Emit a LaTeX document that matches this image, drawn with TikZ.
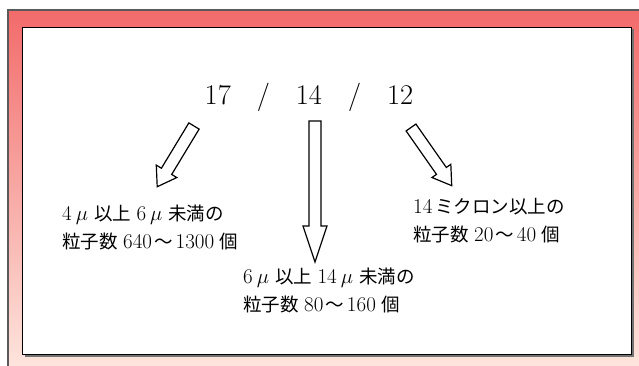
\documentclass[tikz,border=0pt]{standalone}
\usepackage{fontspec}
\newfontfamily\jp{Noto Sans CJK JP}
\newcommand\J[1]{{\jp\fontsize{18.5}{28}\selectfont #1}}
\newcommand\gp{\hspace{5.5pt}}
\newcommand\dm{\hspace{4pt}}
\newcommand\mg{\hspace{6pt}}
\newcommand\wv{\hspace{2.5pt}\J{〜}\hspace{2.5pt}}
\definecolor{frametop}{HTML}{F26B6B}
\definecolor{framebot}{HTML}{FDE6DE}
\definecolor{framegray}{HTML}{5A5A5A}
\newcommand\blockarrow[6]{%
  \draw[blk,shift={#1},rotate=#2] (0,6) -- ({#3-#4},6) -- ({#3-#4},#5) -- (#3,0)
    -- ({#3-#4},-#5) -- ({#3-#4},-6) -- (0,-6) -- cycle;
  \coordinate (#6) at ($#1+(#2:#3)$);}
\usetikzlibrary{calc}
\begin{document}
\begin{tikzpicture}[x=1pt,y=1pt,
  lbl/.style={inner sep=0pt, align=left, anchor=west, font=\fontsize{21}{28}\selectfont},
  blk/.style={draw=black, fill=white, line width=1.2pt, line join=miter}]
\useasboundingbox (0,0) rectangle (639,365);
\fill[white] (0,0) rectangle (639,365);
% outer frame
\shade[top color=frametop, bottom color=framebot] (7.5,-5) rectangle (650,354.5);
\draw[framegray, line width=2pt] (7.5,-5) -- (7.5,354.5) -- (650,354.5);
% inner panel with shadow
\fill[black!55] (24.5,8.5) rectangle (633.5,335.5);
\draw[fill=white, line width=1.5pt] (22.5,10.5) rectangle (631.5,337.5);
% title
\node (title) [inner sep=0pt, anchor=base, font=\fontsize{28.5}{32}\selectfont]
  at (309,261) {17\hspace{26pt}/\hspace{26pt}14\hspace{26pt}/\hspace{26pt}12};
% arrows
\blockarrow{(194,239)}{238.8}{71}{18}{12}{tipA}
\blockarrow{(315,244)}{270}{141}{36}{12}{tipB}
\blockarrow{(411,237.5)}{-55}{71}{18}{11.5}{tipC}
% labels
\node (small) [lbl] at (62,138)
  {4\dm$\mu$\mg\J{以上}\gp6\dm$\mu$\mg\J{未満の}\\\J{粒子数}\gp640\wv1300\gp\J{個}};
\node (mid) [lbl] at (243,74.5)
  {6\dm$\mu$\mg\J{以上}\gp14\dm$\mu$\mg\J{未満の}\\\J{粒子数}\gp80\wv160\gp\J{個}};
\node (large) [lbl] at (413,144)
  {14\hspace{3pt}\J{ミクロン以上の}\\\J{粒子数}\gp20\wv40\gp\J{個}};
\end{tikzpicture}
\end{document}
